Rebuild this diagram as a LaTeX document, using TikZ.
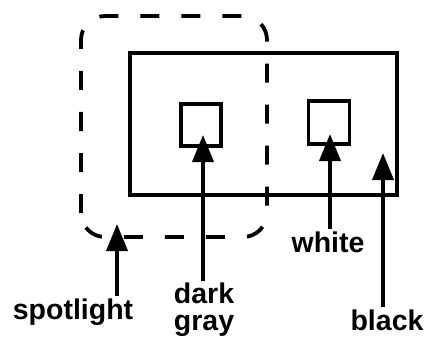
\documentclass[tikz,border=0pt]{standalone}
\usepackage{fontspec}
\setmainfont{Liberation Sans}
\usetikzlibrary{arrows.meta}
\begin{document}
\begin{tikzpicture}[x=1pt,y=1pt,
    lbl/.style={font=\fontsize{28.5}{27}\selectfont\bfseries,inner sep=2pt,align=center},
    pointer/.style={line width=3.8pt,-{Triangle[length=27pt,width=21pt]}}]
  \useasboundingbox (0,0) rectangle (427,343);
  % the black card with its two squares
  \node[draw,line width=3.8pt,minimum width=267,minimum height=142,inner sep=0] (card) at (263.5,219) {};
  \node[draw,line width=3.8pt,minimum width=40,minimum height=42,inner sep=0] (sqgray) at (201,218) {};
  \node[draw,line width=3.8pt,minimum width=41,minimum height=43,inner sep=0] (sqwhite) at (329,220.5) {};
  % spotlight region
  \draw[line width=3.8pt,dash pattern=on 19pt off 22pt,rounded corners=24pt]
    (81,106) rectangle (267,327);
  % tips
  \coordinate (tipspot) at (117,119);
  \coordinate (tipgray) at (203,208);
  \coordinate (tipwhite) at (330,209);
  \coordinate (tipblack) at (383,190);
  % labels
  \node[lbl] (spot) at (73,31) {spotlight};
  \node[lbl] (gray) at (204,33) {dark\\gray};
  \node[lbl] (white) at (328,101) {white};
  \node[lbl] (black) at (387,23) {black};
  \draw[pointer] (spot.north -| tipspot) -- (tipspot);
  \draw[pointer] (gray.north -| tipgray) -- (tipgray);
  \draw[pointer] (white.north -| tipwhite) -- (tipwhite);
  \draw[pointer] (black.north -| tipblack) -- (tipblack);
\end{tikzpicture}
\end{document}
